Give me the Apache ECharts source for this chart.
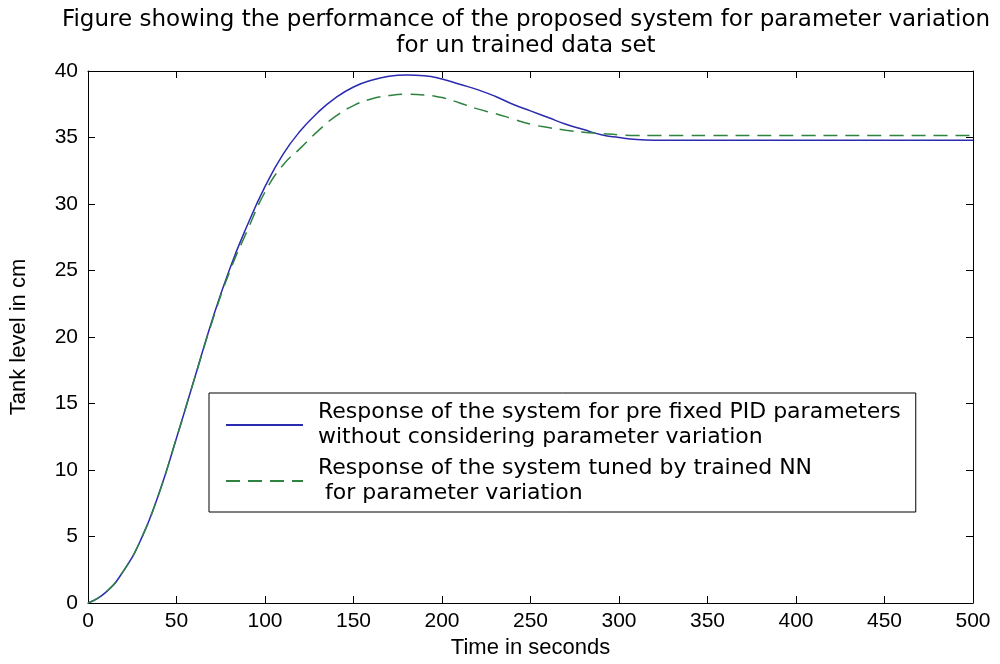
<!DOCTYPE html>
<html><head><meta charset="utf-8">
<script src="https://cdn.jsdelivr.net/npm/echarts@6/dist/echarts.min.js"></script>
<style>html,body{margin:0;padding:0;background:#fff}#c{width:1000px;height:664px}</style>
</head><body><div id="c"></div>
<script>
const titleText = 'Figure showing the performance of the proposed system for parameter variation\nfor un trained data set';
const xName = 'Time in seconds';
const yName = 'Tank level in cm';
const seriesNames = ['Response of the system for pre fixed PID parameters\nwithout considering parameter variation',
                     'Response of the system tuned by trained NN\n for parameter variation'];
const time = [0,10,20,30,40,50,60,70,80,90,100,110,120,130,140,150,160,170,180,190,200,210,220,230,240,250,260,270,280,290,300,310,320,330,340,350,400,450,500];
const pidFixed = [0,0.8,2.4,4.8,8.2,12.4,16.8,21.2,25.1,28.4,31.3,33.7,35.5,36.9,38.0,38.8,39.3,39.6,39.7,39.65,39.4,39.0,38.6,38.1,37.5,37.0,36.5,36.0,35.6,35.2,35.0,34.85,34.8,34.8,34.8,34.8,34.8,34.8,34.8];
const nnTuned = [0,0.8,2.4,4.8,8.2,12.4,16.8,21.1,24.9,28.0,30.9,32.9,34.2,35.5,36.6,37.4,37.9,38.15,38.25,38.2,38.0,37.6,37.15,36.8,36.4,36.0,35.75,35.55,35.4,35.3,35.2,35.15,35.15,35.15,35.15,35.15,35.15,35.15,35.15];

const wide = "'DejaVu Sans',Verdana,sans-serif";
const font = "'Liberation Sans',Arial,sans-serif";
const chart = echarts.init(document.getElementById('c'));
const axisCommon = {
  axisLine:{show:true,onZero:false,lineStyle:{color:'#000',width:1}},
  axisTick:{show:true,inside:true,length:7,lineStyle:{color:'#000'}},
  splitLine:{show:false}
};
chart.setOption({
  animation:false,
  backgroundColor:'#fff',
  title:{text:titleText,left:526,top:7,textAlign:'center',padding:0,
    textStyle:{fontFamily:wide,fontSize:23,fontWeight:'normal',color:'#000',lineHeight:26}},
  grid:{left:88,right:27,top:71,bottom:58},
  legend:{show:true,orient:'vertical',left:209,top:393,padding:[7,15,6,16],itemGap:6,itemWidth:77,itemHeight:14,
    backgroundColor:'#fff',borderColor:'#000',borderWidth:1,
    itemStyle:{color:'rgba(0,0,0,0)',borderColor:'rgba(0,0,0,0)',borderWidth:0},
    textStyle:{fontFamily:wide,fontSize:22,color:'#000',lineHeight:25,padding:[0,0,0,10]},
    data:seriesNames},
  xAxis:[
    Object.assign({type:'value',min:0,max:500,interval:50,position:'bottom',
      name:xName,nameLocation:'middle',nameGap:34,
      nameTextStyle:{fontFamily:font,fontSize:22,color:'#000'},
      axisLabel:{fontFamily:font,fontSize:21,color:'#000',margin:8}},axisCommon),
    Object.assign({type:'value',min:0,max:500,interval:50,position:'top',axisLabel:{show:false}},axisCommon)
  ],
  yAxis:[
    Object.assign({type:'value',min:0,max:40,interval:5,position:'left',
      name:yName,nameLocation:'middle',nameGap:58,
      nameTextStyle:{fontFamily:font,fontSize:22,color:'#000'},
      axisLabel:{fontFamily:font,fontSize:21,color:'#000',margin:10}},axisCommon),
    Object.assign({type:'value',min:0,max:40,interval:5,position:'right',axisLabel:{show:false}},axisCommon)
  ],
  series:[
    {name:seriesNames[0],type:'line',smooth:0.5,showSymbol:false,symbol:'none',
      data:time.map((t,i)=>[t,pidFixed[i]]),
      lineStyle:{color:'#2b2bb0',width:1.5},itemStyle:{color:'#2b2bb0'}},
    {name:seriesNames[1],type:'line',smooth:0.5,showSymbol:false,symbol:'none',
      data:time.map((t,i)=>[t,nnTuned[i]]),
      lineStyle:{color:'#2e8340',width:1.5,type:[14,8]},itemStyle:{color:'#2e8340'}}
  ]
});
</script></body></html>
